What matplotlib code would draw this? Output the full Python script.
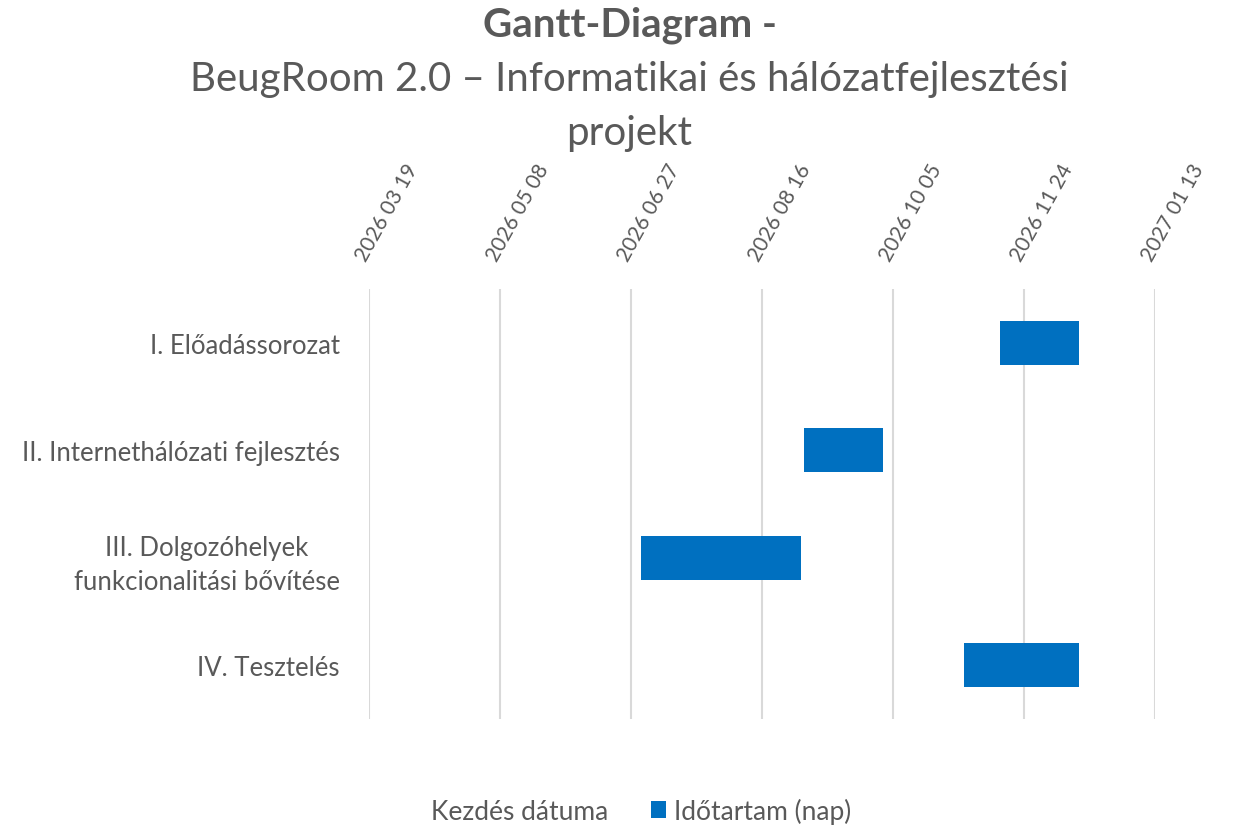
import matplotlib
matplotlib.use("Agg")
import matplotlib.pyplot as plt
import matplotlib.dates as mdates
from matplotlib.patches import Patch
import datetime as dt

plt.rcParams['font.family'] = ['Lato', 'DejaVu Sans']

tasks = ["I. Előadássorozat",
         "II. Internethálózati fejlesztés",
         "III. Dolgozóhelyek\nfunkcionalitási bővítése",
         "IV. Tesztelés"]
start_dates = ["2026-11-15", "2026-09-01", "2026-07-01", "2026-11-01"]
durations = [30, 30, 61, 44]
tick_dates = ["2026-03-19", "2026-05-08", "2026-06-27", "2026-08-16",
              "2026-10-05", "2026-11-24", "2027-01-13"]

GRAY = "#595959"
BLUE = "#0070C0"

starts = [mdates.date2num(dt.datetime.strptime(s, "%Y-%m-%d")) for s in start_dates]
ticks = [mdates.date2num(dt.datetime.strptime(s, "%Y-%m-%d")) for s in tick_dates]

fig = plt.figure(figsize=(12.59, 8.28), dpi=100)
ax = fig.add_axes([369/1259, 1 - 720/828, (1155-369)/1259, (720-290)/828])

ypos = list(range(len(tasks)))
ax.barh(ypos, durations, left=starts, height=0.41, color=BLUE, zorder=3)

ax.set_xlim(ticks[0], ticks[-1])
ax.set_ylim(len(tasks) - 0.5, -0.5)
ax.set_xticks(ticks)
ax.xaxis.set_major_formatter(mdates.DateFormatter("%Y %m %d"))
ax.xaxis.tick_top()
ax.set_yticks(ypos)
ax.set_yticklabels(tasks, ha='right', multialignment='center', linespacing=1.45)
ax.tick_params(axis='both', length=0, colors=GRAY)
ax.tick_params(axis='y', pad=21, labelsize=18.5)
ax.tick_params(axis='x', pad=18, labelsize=15)
for lbl in ax.get_xticklabels():
    lbl.set_rotation(61)
    lbl.set_rotation_mode('anchor')
    lbl.set_ha('left')
    lbl.set_va('bottom')
ax.grid(axis='x', color='#d9d9d9', linewidth=1.5, zorder=0)
ax.grid(axis='y', visible=False)
for s in ax.spines.values():
    s.set_visible(False)

fig.text(0.5, 1 - 25/828, "Gantt-Diagram -", ha='center', va='center',
         fontsize=29, fontweight='bold', color=GRAY)
fig.text(0.5, 1 - 80/828, "BeugRoom 2.0 – Informatikai és hálózatfejlesztési",
         ha='center', va='center', fontsize=29, color=GRAY)
fig.text(0.5, 1 - 133/828, "projekt", ha='center', va='center',
         fontsize=29, color=GRAY)

handles = [Patch(facecolor='none', edgecolor='none', label="Kezdés dátuma"),
           Patch(facecolor=BLUE, edgecolor='none', label="Időtartam (nap)")]
leg = fig.legend(handles=handles, loc='center', bbox_to_anchor=(0.5, 1 - 812/828),
                 ncol=2, frameon=False, fontsize=19, handlelength=0.6,
                 handleheight=0.6, handletextpad=0.3, columnspacing=1.6)
for t in leg.get_texts():
    t.set_color(GRAY)

fig.savefig("out.png", dpi=100)
